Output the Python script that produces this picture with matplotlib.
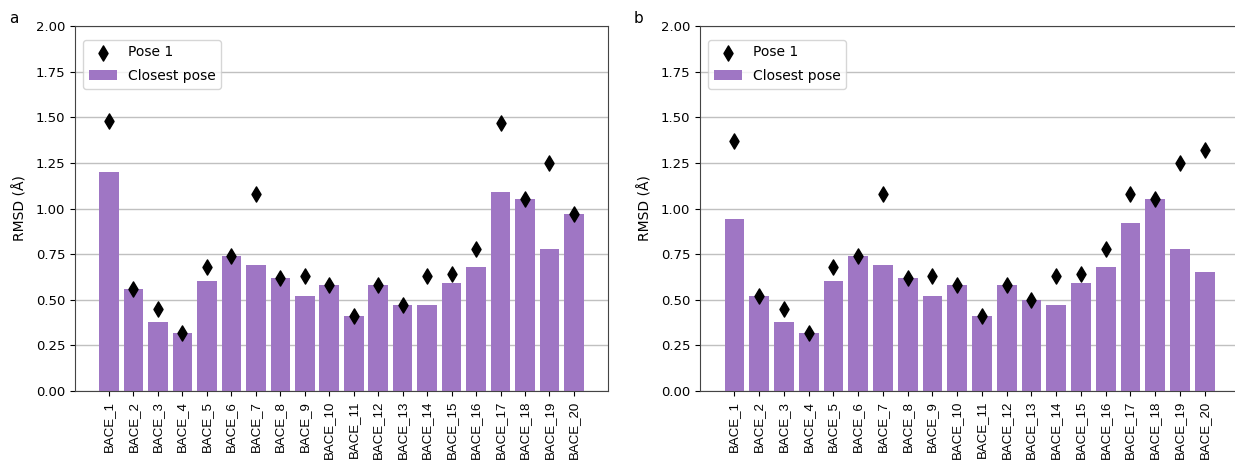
import matplotlib
matplotlib.use("Agg")
from matplotlib import pyplot as plt
import numpy as np

labels = [f"BACE_{i}" for i in range(1, 21)]

closestA = [1.20, 0.56, 0.38, 0.32, 0.60, 0.74, 0.69, 0.62, 0.52, 0.58,
            0.41, 0.58, 0.47, 0.47, 0.59, 0.68, 1.09, 1.05, 0.78, 0.97]
pose1A = [1.48, 0.56, 0.45, 0.32, 0.68, 0.74, 1.08, 0.62, 0.63, 0.58,
          0.41, 0.58, 0.47, 0.63, 0.64, 0.78, 1.47, 1.05, 1.25, 0.97]

closestB = [0.94, 0.52, 0.38, 0.32, 0.60, 0.74, 0.69, 0.62, 0.52, 0.58,
            0.41, 0.58, 0.50, 0.47, 0.59, 0.68, 0.92, 1.05, 0.78, 0.65]
pose1B = [1.37, 0.52, 0.45, 0.32, 0.68, 0.74, 1.08, 0.62, 0.63, 0.58,
          0.41, 0.58, 0.50, 0.63, 0.64, 0.78, 1.08, 1.05, 1.25, 1.32]

barColor = "#9f76c4"


def plotPanel(ax, closest, pose1, letter):
    x = np.arange(len(labels))
    ax.set_axisbelow(True)
    ax.yaxis.grid(True, color="#c0c0c0", linewidth=1.0)
    ax.bar(x, closest, width=0.8, color=barColor, label="Closest pose")
    ax.scatter(x, pose1, marker="d", s=60, color="black", zorder=3, label="Pose 1")
    ax.set_ylim(0, 2.0)
    ax.set_yticks(np.arange(0, 2.01, 0.25))
    ax.set_yticklabels([f"{v:.2f}" for v in np.arange(0, 2.01, 0.25)], fontsize=9.5)
    ax.set_xticks(x)
    ax.set_xticklabels(labels, rotation=90, fontsize=9.5, family="Liberation Sans")
    ax.set_ylabel("RMSD (Å)", fontsize=10, labelpad=6)
    for s in ax.spines.values():
        s.set_color("#444444")
    ax.legend(loc="upper left", bbox_to_anchor=(0.0, 0.985), fontsize=10,
              borderaxespad=0.6, labelspacing=0.7, handletextpad=0.8)
    ax.text(-0.115, 1.0, letter, transform=ax.transAxes, fontsize=11,
            ha="center", va="bottom")


fig = plt.figure(figsize=(12.35, 4.62), dpi=100)
axA = fig.add_axes([0.0607, 0.1537, 0.4316, 0.790])
axB = fig.add_axes([0.5668, 0.1537, 0.4365, 0.790])

plotPanel(axA, closestA, pose1A, "a")
plotPanel(axB, closestB, pose1B, "b")

fig.savefig("out.png", dpi=100)
